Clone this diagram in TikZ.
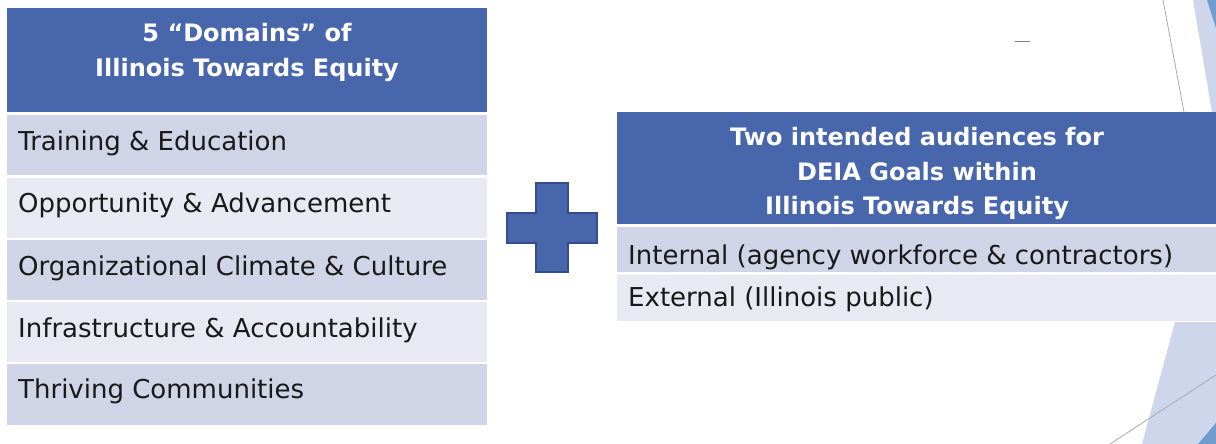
\documentclass[tikz,border=0pt]{standalone}
\usepackage{fontspec}
\setmainfont{DejaVu Sans}
\definecolor{hdrblue}{RGB}{72,102,172}
\definecolor{plusedge}{RGB}{52,78,140}
\definecolor{rowdark}{RGB}{207,212,230}
\definecolor{rowlight}{RGB}{232,233,242}
\definecolor{decolight}{RGB}{205,214,234}
\definecolor{decodark}{RGB}{112,156,206}
\definecolor{decoline}{RGB}{170,170,170}
\begin{document}
\begin{tikzpicture}[x=1pt,y=-1pt,
  cell/.style={anchor=north west, inner sep=0pt, outer sep=0pt, draw=none},
  hdr/.style={cell, fill=hdrblue},
  rowA/.style={cell, fill=rowdark},
  rowB/.style={cell, fill=rowlight},
  rowtxt/.style={anchor=base west, inner sep=0pt, font=\fontsize{26}{30}\selectfont, text=black!90},
  hdrtxt/.style={anchor=base, inner sep=0pt, font=\bfseries\fontsize{24}{30}\selectfont, text=white}
]
\useasboundingbox (0,0) rectangle (1216,444);
\fill[white] (0,0) rectangle (1216,444);

% decorative background shapes
\fill[decolight] (1193,0) -- (1216,0) -- (1216,112) -- (1212,112) -- cycle;
\fill[decodark] (1207,0) -- (1216,0) -- (1216,28) -- cycle;
\draw[decoline, line width=0.8pt] (1163,0) -- (1184,112);
\fill[decolight] (1175,322) -- (1216,322) -- (1216,444) -- (1142,444) -- cycle;
\draw[decoline, line width=0.8pt] (1110,444) -- (1216,375);
\fill[decodark] (1198,444) -- (1216,423) -- (1216,444) -- cycle;
\draw[gray, line width=1pt] (1015,42) -- (1030,42);

% left table
\node[hdr, minimum width=480, minimum height=104] (lh) at (7,8) {};
\node[hdrtxt] (lh1) at (247,42) {5 “Domains” of};
\node[hdrtxt] (lh2) at (247,77) {Illinois Towards Equity};
\node[rowA, minimum width=480, minimum height=60] (l1) at (7,115) {};
\node[rowB, minimum width=480, minimum height=60] (l2) at (7,177.5) {};
\node[rowA, minimum width=480, minimum height=60] (l3) at (7,240) {};
\node[rowB, minimum width=480, minimum height=60] (l4) at (7,302) {};
\node[rowA, minimum width=480, minimum height=61] (l5) at (7,364) {};
\node[rowtxt] (t1) at (18,150) {Training \& Education};
\node[rowtxt] (t2) at (18,212) {Opportunity \& Advancement};
\node[rowtxt] (t3) at (18,275) {Organizational Climate \& Culture};
\node[rowtxt] (t4) at (18,337) {Infrastructure \& Accountability};
\node[rowtxt] (t5) at (18,398) {Thriving Communities};

% plus sign
\filldraw[fill=hdrblue, draw=plusedge, line width=1.2pt]
  (536,183) -- (568,183) -- (568,213) -- (597,213) -- (597,243) -- (568,243)
  -- (568,272) -- (536,272) -- (536,243) -- (507,243) -- (507,213) -- (536,213) -- cycle;

% right table
\node[hdr, minimum width=600, minimum height=112] (rh) at (617,112) {};
\node[hdrtxt] (rh1) at (917,145) {Two intended audiences for};
\node[hdrtxt] (rh2) at (917,180) {DEIA Goals within};
\node[hdrtxt] (rh3) at (917,214) {Illinois Towards Equity};
\node[rowA, minimum width=600, minimum height=45] (r1) at (617,227) {};
\node[rowB, minimum width=600, minimum height=46] (r2) at (617,274.5) {};
\node[rowtxt] (u1) at (628,264) {Internal (agency workforce \& contractors)};
\node[rowtxt] (u2) at (628,306) {External (Illinois public)};
\end{tikzpicture}
\end{document}
